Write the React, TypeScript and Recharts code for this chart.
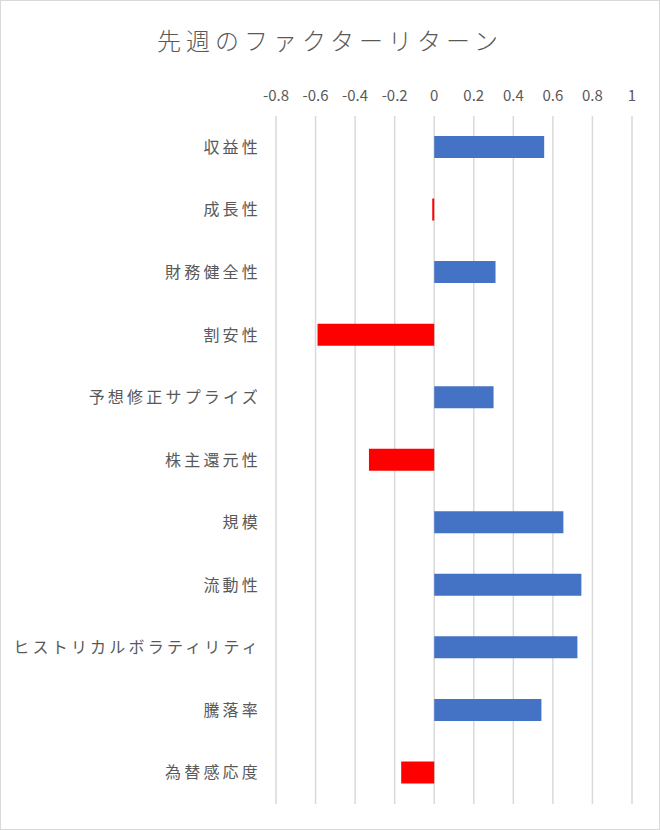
import { BarChart, Bar, XAxis, YAxis, CartesianGrid, Cell } from "recharts";

const factors = [
  "収益性",
  "成長性",
  "財務健全性",
  "割安性",
  "予想修正サプライズ",
  "株主還元性",
  "規模",
  "流動性",
  "ヒストリカルボラティリティ",
  "騰落率",
  "為替感応度",
];
const returns = [0.556, -0.01, 0.31, -0.59, 0.3, -0.33, 0.653, 0.744, 0.724, 0.542, -0.167];
const xTicks = [-0.8, -0.6, -0.4, -0.2, 0, 0.2, 0.4, 0.6, 0.8, 1];

const data = factors.map((name, i) => ({ name, value: returns[i] }));

const FONT = '"Noto Sans CJK JP", "Noto Sans", sans-serif';
const GREY = "#595959";

export default function App() {
  return (
    <div style={{ position: "absolute", left: 0, top: 0, width: 660, height: 830, background: "#fff", fontFamily: FONT }}>
      <div
        style={{
          position: "absolute",
          left: 0,
          top: 22,
          width: 660,
          textAlign: "center",
          fontSize: 24,
          letterSpacing: 5,
          color: GREY,
          fontWeight: 300,
        }}
      >
        先週のファクターリターン
      </div>
      <BarChart
        width={660}
        height={830}
        data={data}
        layout="vertical"
        margin={{ top: 76, right: 28, left: 0, bottom: 26 }}
        barSize={22}
      >
        <CartesianGrid horizontal={false} stroke="#d9d9d9" strokeWidth={1.5} />
        <XAxis
          type="number"
          orientation="top"
          domain={[-0.8, 1]}
          ticks={xTicks}
          tickFormatter={(v: number) => String(Number(v.toFixed(1)))}
          axisLine={false}
          tickLine={false}
          tickSize={0}
          tickMargin={15}
          height={40}
          tick={{ fontSize: 15, fill: GREY, fontFamily: FONT }}
        />
        <YAxis
          type="category"
          dataKey="name"
          width={276}
          axisLine={false}
          tickLine={false}
          tickSize={0}
          tickMargin={15}
          interval={0}
          tick={{ fontSize: 16, fill: GREY, fontFamily: FONT, letterSpacing: 3.2 }}
        />
        <Bar dataKey="value" isAnimationActive={false}>
          {data.map((d, i) => (
            <Cell key={i} fill={d.value < 0 ? "#FF0000" : "#4472C4"} />
          ))}
        </Bar>
      </BarChart>
      <div
        style={{
          position: "absolute",
          inset: 0,
          border: "1px solid #d9d9d9",
          pointerEvents: "none",
        }}
      />
    </div>
  );
}
